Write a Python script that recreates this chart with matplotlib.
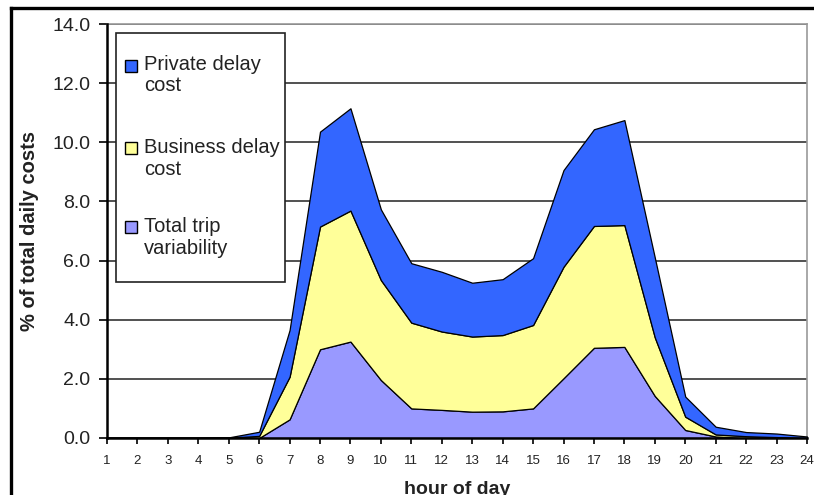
import numpy as np
import matplotlib.pyplot as plt
from matplotlib.patches import Rectangle
from matplotlib.lines import Line2D

plt.rcParams['font.family'] = ['Liberation Sans', 'DejaVu Sans']

hours = list(range(1, 25))
# share of daily cost per hour, stacked bottom to top
trip_var = [0, 0, 0, 0, 0, 0, 0.63, 3.00, 3.26, 1.96, 1.00, 0.95,
            0.89, 0.90, 1.00, 2.02, 3.05, 3.08, 1.42, 0.27, 0.05, 0, 0, 0]
business = [0, 0, 0, 0, 0.01, 0.07, 1.44, 4.15, 4.43, 3.38, 2.90, 2.65,
            2.54, 2.58, 2.82, 3.77, 4.12, 4.12, 1.98, 0.45, 0.07, 0.06, 0.03, 0]
private = [0, 0, 0, 0, 0.01, 0.14, 1.58, 3.21, 3.46, 2.39, 2.01, 2.02,
           1.82, 1.89, 2.26, 3.27, 3.27, 3.55, 2.70, 0.68, 0.26, 0.14, 0.12, 0.05]
labels = ['Total trip\nvariability', 'Business delay\ncost', 'Private delay\ncost']
colors = ['#9999ff', '#ffff99', '#3366ff']
yticks = np.arange(0, 14.1, 2.0)

fig = plt.figure(figsize=(8.14, 4.95), dpi=100)
ax = fig.add_axes([0.1314, 0.1152, 0.8600, 0.8363])

ax.stackplot(hours, trip_var, business, private, colors=colors,
             edgecolor='black', linewidth=0.9, zorder=3)

ax.set_xlim(1, 24)
ax.set_ylim(0, 14)
ax.set_xticks(hours)
ax.set_yticks(yticks)
ax.set_yticklabels(['%.1f' % v for v in yticks])
ax.tick_params(axis='y', labelsize=14, length=6, width=1.2, pad=6,
               labelcolor='#222222')
ax.tick_params(axis='x', labelsize=9.5, length=4, width=1.2, pad=8,
               labelcolor='#222222')
ax.grid(axis='y', color='#333333', linewidth=1.2, zorder=1)
ax.set_axisbelow(True)

for side in ['left', 'bottom']:
    ax.spines[side].set_linewidth(1.8)
    ax.spines[side].set_zorder(5)
for side in ['top', 'right']:
    ax.spines[side].set_color('#999999')
    ax.spines[side].set_linewidth(1.2)

ax.set_xlabel('hour of day', fontsize=14, fontweight='bold', color='#222222')
ax.set_ylabel('% of total daily costs', fontsize=14.5, fontweight='bold',
              color='#222222')
ax.xaxis.set_label_coords(0.5, -0.104)
ax.yaxis.set_label_coords(-0.097, 0.5)

# legend box with the swatch beside the first line of each label
ax.add_patch(Rectangle((0.0129, 0.377), 0.2414, 0.601, transform=ax.transAxes,
                       facecolor='white', edgecolor='#222222', linewidth=1.2,
                       zorder=10))
sw, sh = 0.0171, 0.029
for lab, col, sy, ty in zip(labels[::-1], colors[::-1],
                            [0.884, 0.686, 0.495], [0.925, 0.724, 0.533]):
    ax.add_patch(Rectangle((0.0257, sy), sw, sh, transform=ax.transAxes,
                           facecolor=col, edgecolor='black', linewidth=1.0,
                           zorder=11))
    ax.text(0.0529, ty, lab, transform=ax.transAxes, fontsize=14.5,
            va='top', ha='left', linespacing=1.15, color='#222222', zorder=11)

# frame around the figure
fig.add_artist(Line2D([0.0135, 0.0135], [0, 0.984], color='black', linewidth=2.4))
fig.add_artist(Line2D([0.0135, 1.0], [0.984, 0.984], color='black', linewidth=2.4))

plt.savefig('out.png', dpi=100)
